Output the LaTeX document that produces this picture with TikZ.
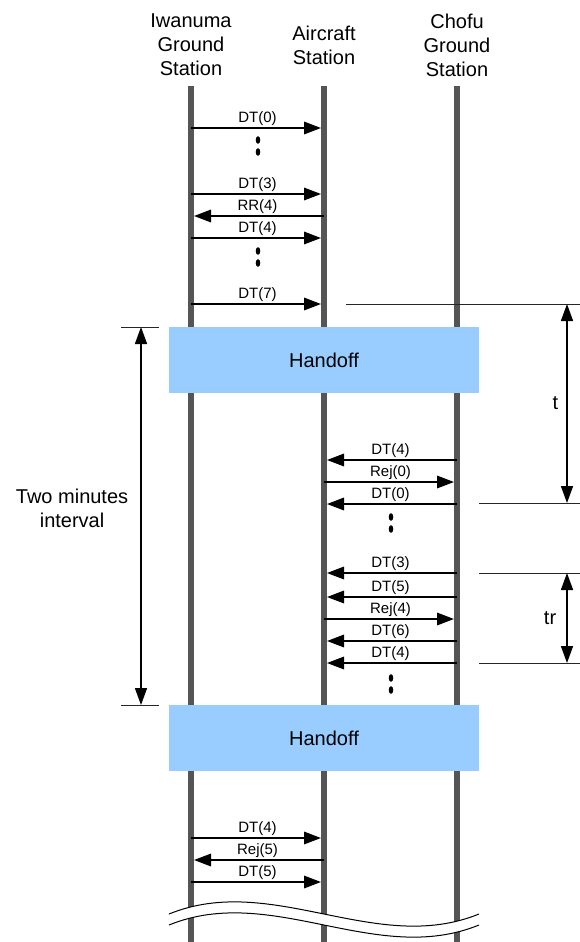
\documentclass[tikz,border=0pt]{standalone}
\usepackage{fontspec}
\setmainfont{Liberation Sans}
\usetikzlibrary{arrows.meta, positioning, calc}
\definecolor{lifeline}{RGB}{85,85,85}
\definecolor{hofill}{RGB}{153,204,255}

\begin{document}
\begin{tikzpicture}[
  x=1pt, y=-1pt,
  font=\fontsize{20}{24}\selectfont,
  station/.style={align=center, inner sep=0pt},
  life/.style={draw=lifeline, line width=6pt},
  handoff/.style={fill=hofill, minimum width=310pt, minimum height=66pt, inner sep=0pt},
  msg/.style={-{Triangle[length=17pt, width=12.5pt]}, line width=1.7pt, shorten >=3pt},
  lbl/.style={font=\fontsize{15}{15}\selectfont, midway, above, inner sep=1.5pt},
  dim/.style={{Triangle[length=17pt, width=12pt]}-{Triangle[length=17pt, width=12pt]}, line width=1.6pt},
  ext/.style={draw=black!85, line width=1pt},
]
\useasboundingbox (0,0) rectangle (580,942);

\node[station] (iw) at (191,45) {Iwanuma\\Ground\\Station};
\node[station] (ac) at (324,45) {Aircraft\\Station};
\node[station] (ch) at (457,45) {Chofu\\Ground\\Station};

\foreach \s in {iw, ac, ch}
  \draw[life] (\s |- 0,86) -- (\s |- 0,942);

\node[handoff] (ho1) at (324,360) {Handoff};
\node[handoff] (ho2) at (324,738) {Handoff};

\foreach \y/\a/\b/\m in {128/iw/ac/DT(0), 194/iw/ac/DT(3), 216/ac/iw/RR(4), 238/iw/ac/DT(4),
    304/iw/ac/DT(7), 460/ch/ac/DT(4), 482/ac/ch/Rej(0), 504/ch/ac/DT(0),
    573/ch/ac/DT(3), 597/ch/ac/DT(5), 619/ac/ch/Rej(4), 641/ch/ac/DT(6), 663/ch/ac/DT(4),
    838/iw/ac/DT(4), 860/ac/iw/Rej(5), 882/iw/ac/DT(5)}
  \draw[msg] (\a |- 0,\y) -- (\b |- 0,\y) node[lbl] {\m};

\foreach \x/\y in {258/140, 258/152, 258/251, 258/263, 391/517, 391/529, 391/678, 391/690}
  \fill (\x,\y) ellipse [x radius=2.3, y radius=3.8];

% time marks
\coordinate (t1) at (567,304);
\coordinate (t2) at (567,503);
\coordinate (tr1) at (567,573);
\coordinate (tr2) at (567,663);
\coordinate (iv1) at (141,327);
\coordinate (iv2) at (141,705);
\draw[ext] (346,304) -- (580,304);
\draw[ext] (479,503) -- (580,503);
\draw[ext] (479,573) -- (580,573);
\draw[ext] (479,663) -- (580,663);
\draw[ext] (121,327) -- (159,327);
\draw[ext] (121,705) -- (159,705);
\draw[dim] (t1) -- (t2) node[midway, left=8pt, inner sep=0pt] (tl) {t};
\draw[dim] (tr1) -- (tr2) node[midway, left=10pt, inner sep=0pt] (trl) {tr};
\draw[dim] (iv1) -- (iv2) node[midway, left=12pt, yshift=8pt, inner sep=0pt, align=center] (ivl) {Two minutes\\interval};

\fill[white] (169,914) .. controls (272,872) and (376,956) .. (479,914)
  -- (479,925) .. controls (376,967) and (272,883) .. (169,925) -- cycle;
\draw[line width=1pt] (169,914) .. controls (272,872) and (376,956) .. (479,914);
\draw[line width=1pt] (169,925) .. controls (272,883) and (376,967) .. (479,925);
\end{tikzpicture}
\end{document}
